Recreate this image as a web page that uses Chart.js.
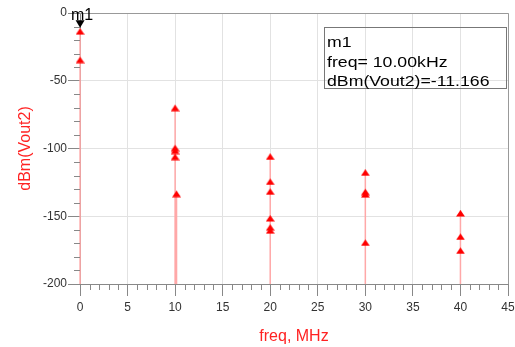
<!DOCTYPE html>
<html lang="en">

<head>
    <meta charset="UTF-8">
    <title>dBm(Vout2) spectrum</title>
    <script src="https://cdn.jsdelivr.net/npm/chart.js"></script>
    <style>
        body {
            margin: 0;
            background: #fff;
        }
    </style>
</head>

<body>
    <canvas id="spectrum" width="515" height="347"></canvas>

    <script>
        // Spectral lines: frequency (MHz) and level (dBm)
        const toneFreq = [0.01, 0.01, 10, 10, 10, 10, 10.15, 20, 20, 20, 20, 20, 20, 30, 30, 30, 30, 40, 40, 40];
        const toneLevel = [-11.166, -32.2, -67.7, -97.2, -99.3, -103.8, -131.1, -103.6, -122.1, -129.4, -149.1, -155.9, -158.1, -115.4, -129.7, -131.5, -167.1, -145.4, -162.7, -173];

        // Marker m1
        const markerFreq = 0.01;
        const markerLevel = -11.166;

        const xTicks = [0, 5, 10, 15, 20, 25, 30, 35, 40, 45];
        const yTicks = [-200, -150, -100, -50, 0];
        const floorLevel = -200;

        const FONT = 'Liberation Sans, Arial, sans-serif';

        const tones = toneFreq.map((f, i) => ({ x: f, y: toneLevel[i] }));

        // each stem goes from the floor up to its tone, broken by a null point
        const stems = [];
        toneFreq.forEach((f, i) => {
            stems.push({ x: f, y: floorLevel }, { x: f, y: toneLevel[i] }, { x: f, y: null });
        });

        // triangle symbol with its tip on the data point (image is drawn centred)
        const tri = document.createElement('canvas');
        tri.width = 9;
        tri.height = 14;
        const tctx = tri.getContext('2d');
        tctx.fillStyle = '#ff0000';
        tctx.beginPath();
        tctx.moveTo(4.5, 7);
        tctx.lineTo(9, 13.5);
        tctx.lineTo(0, 13.5);
        tctx.closePath();
        tctx.fill();

        // minor ticks, plot frame, marker and readout box
        const extras = {
            id: 'extras',
            afterDraw(chart) {
                const { ctx, chartArea: a, scales: { x, y } } = chart;
                ctx.save();

                ctx.strokeStyle = '#888';
                ctx.lineWidth = 1;
                ctx.beginPath();
                for (let v = 0; v <= 45; v++) {
                    if (v % 5 === 0) continue;
                    const px = Math.round(x.getPixelForValue(v)) + 0.5;
                    ctx.moveTo(px, a.bottom);
                    ctx.lineTo(px, a.bottom + 6);
                }
                for (let v = -200; v <= 0; v += 10) {
                    if (v % 50 === 0) continue;
                    const py = Math.round(y.getPixelForValue(v)) + 0.5;
                    ctx.moveTo(a.left - 6, py);
                    ctx.lineTo(a.left, py);
                }
                ctx.stroke();

                // top and right edges
                ctx.strokeStyle = '#999';
                ctx.beginPath();
                ctx.moveTo(a.left, Math.round(a.top) + 0.5);
                ctx.lineTo(Math.round(a.right) + 0.5, Math.round(a.top) + 0.5);
                ctx.lineTo(Math.round(a.right) + 0.5, a.bottom);
                ctx.stroke();

                // m1 marker
                const mx = x.getPixelForValue(markerFreq);
                const my = y.getPixelForValue(markerLevel);
                ctx.fillStyle = '#000';
                ctx.beginPath();
                ctx.moveTo(mx, my - 0.5);
                ctx.lineTo(mx - 4.5, my - 8);
                ctx.lineTo(mx + 4.5, my - 8);
                ctx.closePath();
                ctx.fill();
                ctx.font = '16px ' + FONT;
                ctx.textAlign = 'center';
                ctx.textBaseline = 'alphabetic';
                ctx.fillText('m1', mx + 2, my - 8);

                // readout box
                const bx = a.right - 184;
                const by = a.top + 14.5;
                ctx.strokeStyle = '#777';
                ctx.strokeRect(bx + 0.5, by, 182, 61);
                const lines = [
                    'm1',
                    'freq= ' + (markerFreq * 1000).toFixed(2) + 'kHz',
                    'dBm(Vout2)=' + markerLevel.toFixed(3)
                ];
                const baselines = [47, 67, 86];
                ctx.font = '15px ' + FONT;
                ctx.textAlign = 'left';
                lines.forEach((t, i) => {
                    ctx.save();
                    ctx.translate(bx + 3, baselines[i]);
                    ctx.scale(1.18, 1);
                    ctx.fillText(t, 0, 0);
                    ctx.restore();
                });

                ctx.restore();
            }
        };

        new Chart(document.getElementById('spectrum'), {
            type: 'scatter',
            data: {
                datasets: [{
                    data: tones,
                    pointStyle: tri,
                    pointRadius: 5,
                    clip: false
                }, {
                    data: stems,
                    showLine: true,
                    spanGaps: false,
                    borderColor: '#ffa8a8',
                    borderWidth: 1.5,
                    pointRadius: 0,
                    clip: false
                }]
            },
            options: {
                responsive: false,
                animation: false,
                layout: { padding: { top: 13, right: 7, left: 0, bottom: 0 } },
                plugins: {
                    legend: { display: false },
                    tooltip: { enabled: false }
                },
                scales: {
                    x: {
                        type: 'linear',
                        min: 0,
                        max: 45,
                        afterFit: (s) => {
                            s.height = 63;
                            s.paddingLeft = 0;
                            s.paddingRight = 0;
                        },
                        afterBuildTicks: (s) => { s.ticks = xTicks.map(v => ({ value: v })); },
                        ticks: {
                            color: '#333',
                            padding: 4,
                            font: { family: FONT, size: 12 },
                            maxRotation: 0
                        },
                        grid: { color: '#e2e2e2', tickColor: '#888', tickLength: 12 },
                        border: { color: '#888' },
                        title: {
                            display: true,
                            text: 'freq, MHz',
                            color: '#ff2222',
                            font: { family: FONT, size: 16 },
                            padding: { top: 0, bottom: 1 }
                        }
                    },
                    y: {
                        type: 'linear',
                        min: -200,
                        max: 0,
                        afterFit: (s) => {
                            s.width = 80;
                            s.paddingTop = 0;
                            s.paddingBottom = 0;
                        },
                        afterBuildTicks: (s) => { s.ticks = yTicks.map(v => ({ value: v })); },
                        ticks: {
                            color: '#333',
                            padding: 1,
                            font: { family: FONT, size: 12 }
                        },
                        grid: { color: '#e2e2e2', tickColor: '#888', tickLength: 12 },
                        border: { color: '#888' },
                        title: {
                            display: true,
                            text: 'dBm(Vout2)',
                            color: '#ff2222',
                            font: { family: FONT, size: 16 },
                            padding: { top: 16, bottom: 0 }
                        }
                    }
                }
            },
            plugins: [extras]
        });
    </script>
</body>

</html>
